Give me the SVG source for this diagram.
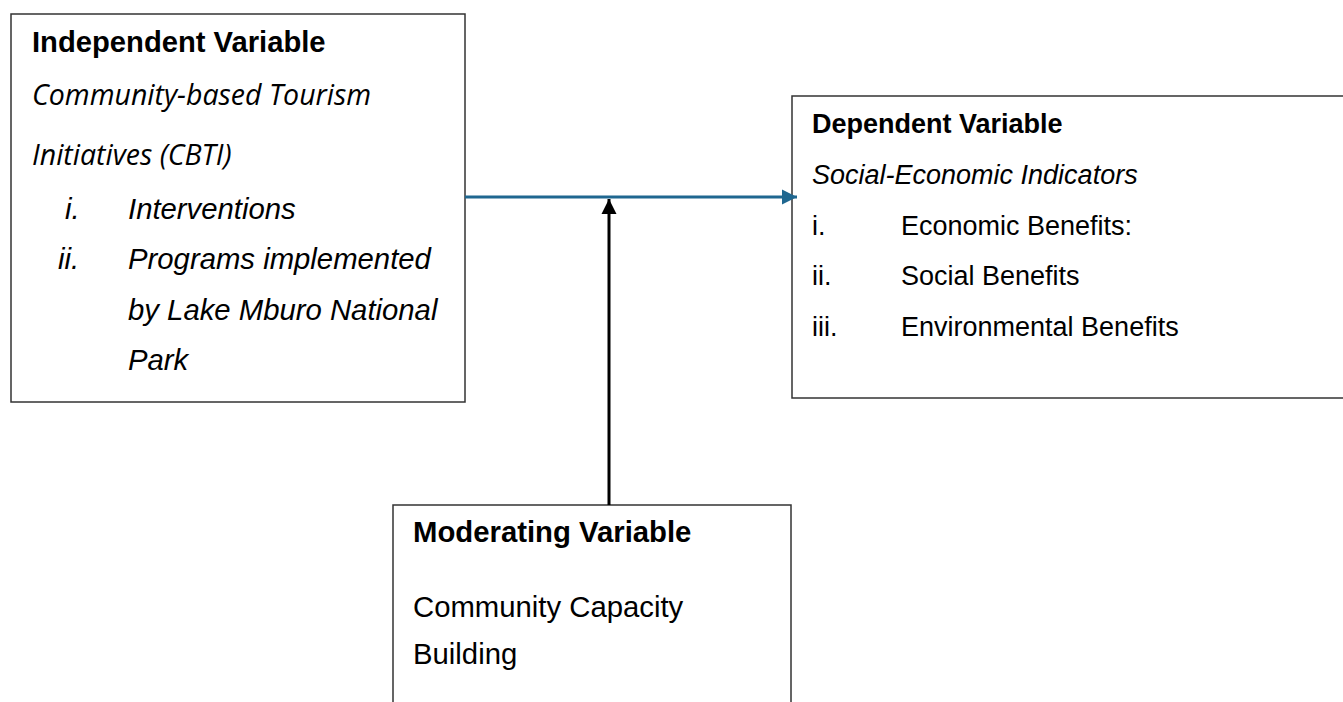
<svg xmlns="http://www.w3.org/2000/svg" width="1343" height="702" viewBox="0 0 1343 702">
<style>
.box{fill:#fff;stroke:#333;stroke-width:1.5}
.h{font-family:"Liberation Sans",Arial,sans-serif;font-weight:bold;fill:#000}
.t{font-family:"Liberation Sans",Arial,sans-serif;fill:#000}
.ti{font-family:"Liberation Sans",Arial,sans-serif;font-style:italic;fill:#000}
.si{font-family:"Open Sans","Noto Sans",sans-serif;font-style:italic;fill:#000}
</style>
<defs>
<marker id="ab" markerUnits="userSpaceOnUse" markerWidth="16" markerHeight="16" viewBox="0 0 16 16" refX="15" refY="8" orient="auto"><path d="M0,0.5 L15,8 L0,15.5 Z" fill="#1f6790"/></marker>
<marker id="ak" markerUnits="userSpaceOnUse" markerWidth="16" markerHeight="16" viewBox="0 0 16 16" refX="15" refY="8" orient="auto"><path d="M0,0.5 L15,8 L0,15.5 Z" fill="#000"/></marker>
</defs>
<rect width="1343" height="702" fill="#fff"/>
<g id="independent">
<rect class="box" x="11" y="14" width="454" height="388"/>
<text class="h" x="32" y="52" font-size="29.2">Independent Variable</text>
<text class="si" x="32" y="105" font-size="28.5">Community-based Tourism</text>
<text class="si" x="32" y="165" font-size="28.5">Initiatives (CBTI)</text>
<text class="ti" x="65" y="219" font-size="29.3">i.</text>
<text class="ti" x="128" y="219" font-size="29.3">Interventions</text>
<text class="ti" x="58" y="269" font-size="29.3">ii.</text>
<text class="ti" x="128" y="269" font-size="29.3">Programs implemented</text>
<text class="ti" x="128" y="320" font-size="29.3">by Lake Mburo National</text>
<text class="ti" x="128" y="370" font-size="29.3">Park</text>
</g>
<g id="dependent">
<rect class="box" x="792" y="96" width="560" height="302"/>
<text class="h" x="812" y="133" font-size="27">Dependent Variable</text>
<text class="ti" x="812" y="184" font-size="27">Social-Economic Indicators</text>
<text class="t" x="812" y="235" font-size="27">i.</text>
<text class="t" x="901" y="235" font-size="27">Economic Benefits:</text>
<text class="t" x="812" y="285" font-size="27">ii.</text>
<text class="t" x="901" y="285" font-size="27">Social Benefits</text>
<text class="t" x="812" y="336" font-size="27">iii.</text>
<text class="t" x="901" y="336" font-size="27">Environmental Benefits</text>
</g>
<g id="moderating">
<rect class="box" x="393" y="505" width="398" height="210"/>
<text class="h" x="413" y="542" font-size="29.3">Moderating Variable</text>
<text class="t" x="413" y="617" font-size="29.3">Community Capacity</text>
<text class="t" x="413" y="664" font-size="29.3">Building</text>
</g>
<g id="connectors">
<line x1="465" y1="197" x2="797" y2="197" stroke="#1f6790" stroke-width="3" marker-end="url(#ab)"/>
<line x1="609" y1="505" x2="609" y2="199" stroke="#000" stroke-width="3" marker-end="url(#ak)"/>
</g>
</svg>
